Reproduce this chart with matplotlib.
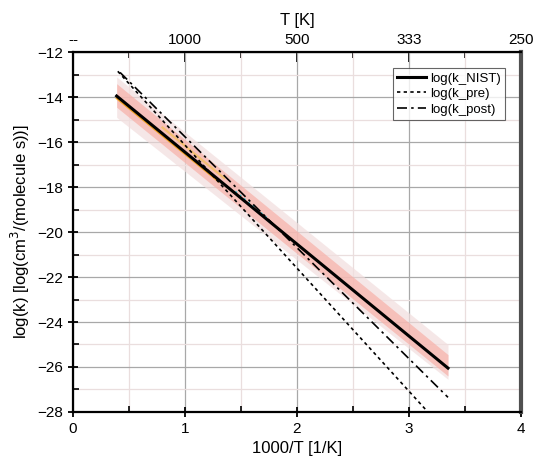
'''log(k) vs 1000/T: NIST fit with uncertainty bands and pre/post fits'''
import matplotlib.pyplot as plt
from matplotlib.ticker import MultipleLocator
import numpy as np

# end points of each line (1000/T, log k)
x_nist = [0.39, 3.35]
y_nist = [-13.95, -26.05]
x_pre = [0.40, 3.17]
y_pre = [-12.85, -28.0]
x_post = [0.42, 3.35]
y_post = [-12.9, -27.35]

# uncertainty bands around NIST
band_in_hi = [-13.4, -25.45]
band_in_lo = [-14.45, -26.4]
band_out_hi = [-13.1, -25.0]
band_out_lo = [-14.9, -26.55]

# short coloured fragments
x_orange = [0.39, 1.30]
y_orange = [-14.05, -17.75]
x_gold = [0.80, 1.35]
y_gold = [-15.35, -17.6]
x_cyan = [1.45, 1.75]
y_cyan = [-18.2, -19.45]

top_ticks = [0, 1, 2, 3, 4]
top_labels = ['--', '1000', '500', '333', '250']

plt.rcParams['font.family'] = 'Liberation Sans'
fig = plt.figure(figsize=(5.33, 4.66), dpi=100)
ax = fig.add_axes([0.137, 0.116, 0.84, 0.772])

ax.fill_between(x_nist, band_out_lo, band_out_hi, color='#f2dede', alpha=0.7, lw=0)
ax.fill_between(x_nist, band_in_lo, band_in_hi, color='#f7b0a8', alpha=0.7, lw=0)

ax.plot(x_orange, y_orange, color='#f0a020', lw=1.4)
ax.plot(x_gold, y_gold, color='#f5c060', lw=1.6, alpha=0.8)
ax.plot(x_cyan, y_cyan, color='#40c8d8', lw=1.5, ls=':')

ax.plot(x_nist, y_nist, color='black', lw=2.2, label='log(k_NIST)')
ax.plot(x_pre, y_pre, color='black', lw=1.2, ls=(0, (2, 2)), label='log(k_pre)')
ax.plot(x_post, y_post, color='black', lw=1.2, ls=(0, (6, 2.5, 1.5, 2.5)), label='log(k_post)')

ax.set_xlim(0, 4)
ax.set_ylim(-28, -12)
ax.xaxis.set_major_locator(MultipleLocator(1))
ax.xaxis.set_minor_locator(MultipleLocator(0.5))
ax.yaxis.set_major_locator(MultipleLocator(2))
ax.yaxis.set_minor_locator(MultipleLocator(1))
ax.grid(which='major', color='#a8a8a8', lw=0.9)
ax.grid(which='minor', color='#eadede', lw=0.9)
ax.set_axisbelow(True)

ax.tick_params(which='major', direction='inout', length=7, width=1.3, labelsize=11)
ax.tick_params(which='minor', direction='in', length=4, width=1.2)
for s in ['left', 'bottom', 'top']:
    ax.spines[s].set_linewidth(1.6)
ax.spines['right'].set_linewidth(3)
ax.spines['right'].set_color('#505050')

ax.set_xlabel('1000/T [1/K]', fontsize=12)
ax.set_ylabel('log(k) [log(cm$^3$/(molecule s))]', fontsize=12)

top = ax.secondary_xaxis('top')
top.set_xticks(top_ticks)
top.set_xticklabels(top_labels)
top.xaxis.set_minor_locator(MultipleLocator(0.5))
top.tick_params(which='major', direction='in', length=7, width=1.3, labelsize=11)
top.tick_params(which='minor', direction='in', length=4, width=1.2)
top.set_xlabel('T [K]', fontsize=12, labelpad=6)

leg = ax.legend(loc='upper right', bbox_to_anchor=(0.965, 0.955), fontsize=9.5,
                handlelength=2.2, handletextpad=0.3, borderpad=0.3,
                labelspacing=0.25, borderaxespad=0, fancybox=False)
leg.get_frame().set_edgecolor('#404040')
leg.get_frame().set_linewidth(0.8)

fig.savefig('out.png', dpi=100)
